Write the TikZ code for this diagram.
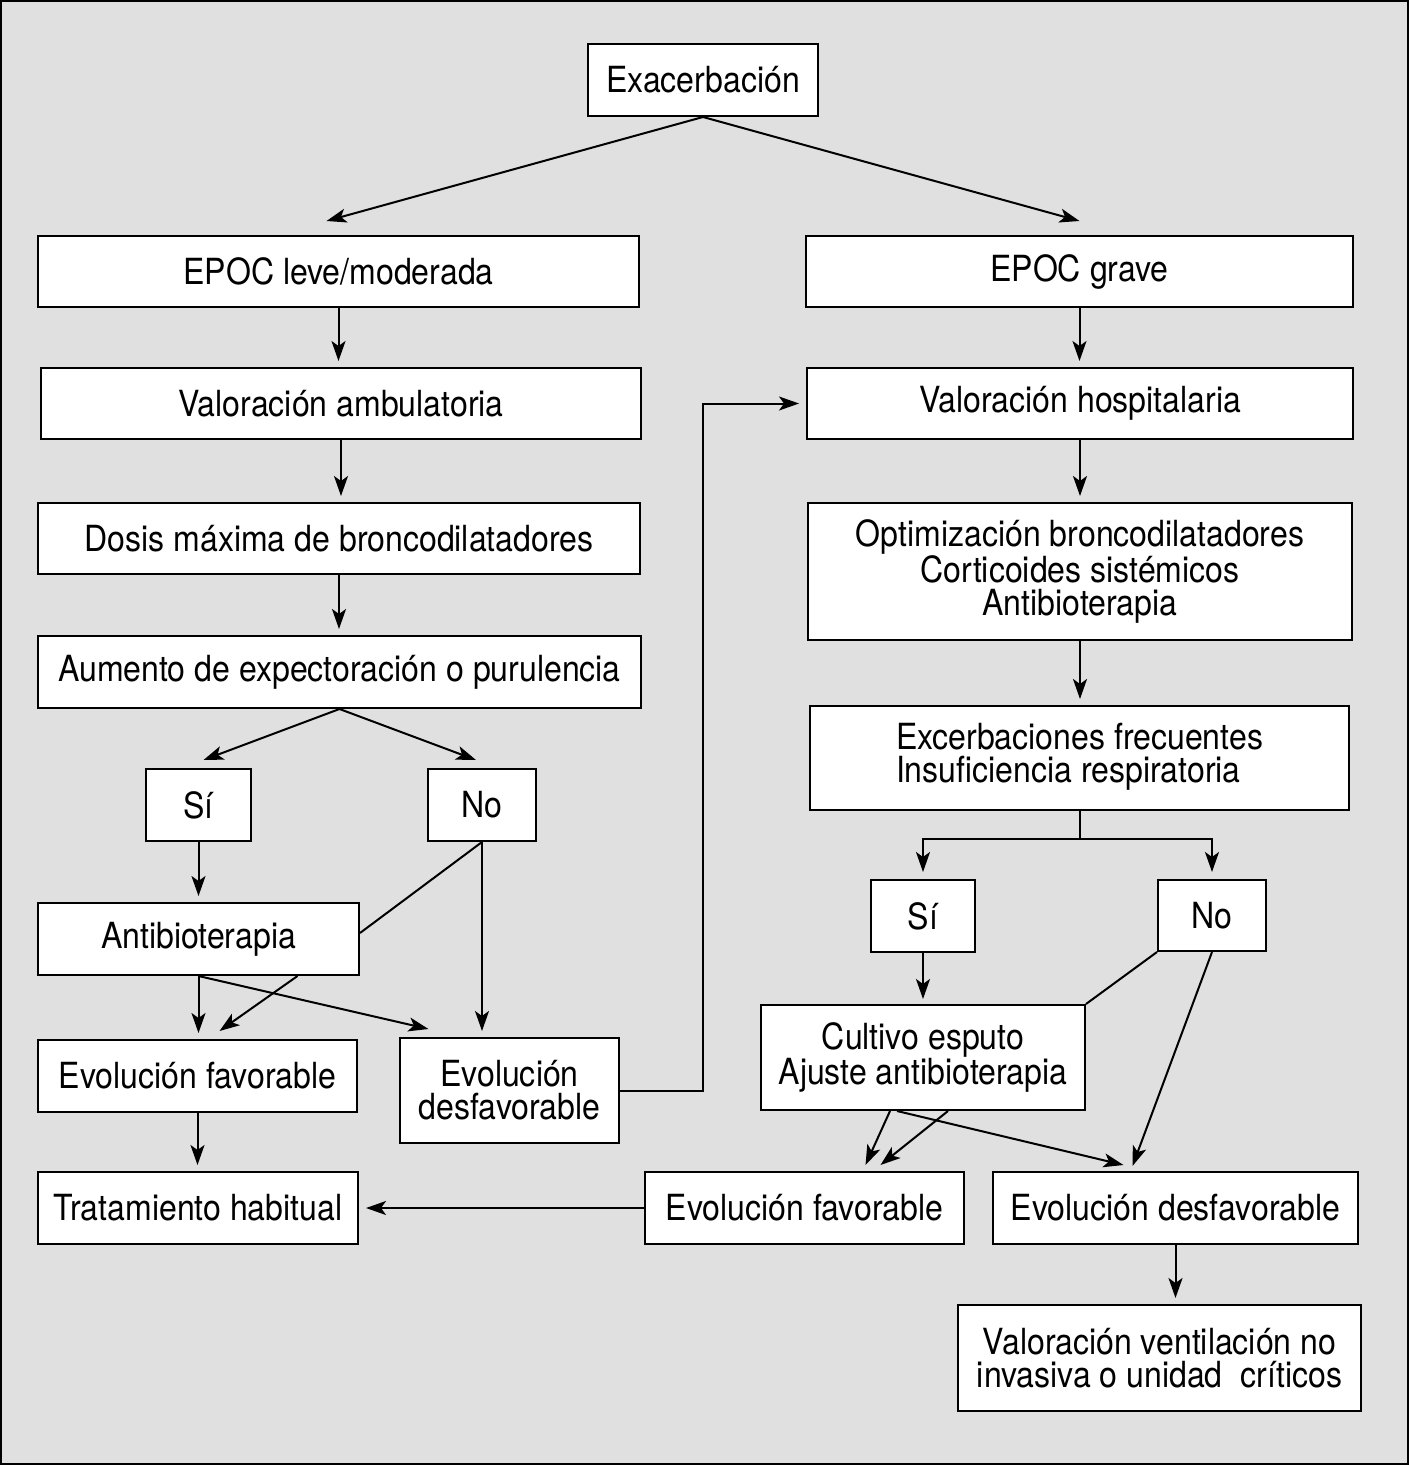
\documentclass[tikz,border=0pt]{standalone}
\usepackage{fontspec}
\setmainfont{TeX Gyre Heros}[FakeStretch=0.89]
\usetikzlibrary{arrows.meta,calc}
\definecolor{bggray}{RGB}{224,224,224}
\begin{document}
\begin{tikzpicture}[x=1pt,y=-1pt,
  box/.style={draw=black,line width=2pt,fill=white,rectangle,inner sep=0pt,align=center,
    font=\fontsize{36}{33}\selectfont},
  conn/.style={line width=2pt,draw=black},
  arr/.style={conn,-{Stealth[length=20pt,width=14pt,inset=5pt]}},
  gap/.style={shorten >=6pt}]
\useasboundingbox (0,0) rectangle (1409,1465);
\draw[line width=2pt,fill=bggray] (1,1) rectangle (1408,1464);

\node[box,minimum width=230pt,minimum height=72pt] (exa) at (703,80) {Exacerbación};
\node[box,minimum width=601pt,minimum height=71pt] (leve) at (338.5,271.5) {EPOC leve/moderada};
\node[box,minimum width=547pt,minimum height=71pt] (grave) at (1079.5,271.5) {EPOC grave};
\node[box,minimum width=600pt,minimum height=71pt] (vamb) at (341,403.5) {Valoración ambulatoria};
\node[box,minimum width=546pt,minimum height=71pt] (vhosp) at (1080,403.5) {Valoración hospitalaria};
\node[box,minimum width=602pt,minimum height=71pt] (dosis) at (339,538.5) {Dosis máxima de broncodilatadores};
\node[box,minimum width=544pt,minimum height=137pt] (optim) at (1080,571.5) {Optimización broncodilatadores\\Corticoides sistémicos\\Antibioterapia};
\node[box,minimum width=603pt,minimum height=72pt] (aum) at (339.5,672) {Aumento de expectoración o purulencia};
\node[box,minimum width=539pt,minimum height=104pt] (exc) at (1079.5,758) {\begin{tabular}{@{}l@{}}Excerbaciones frecuentes\\[-3pt]Insuficiencia respiratoria\end{tabular}};
\node[box,minimum width=105pt,minimum height=72pt] (siL) at (198.5,805) {Sí};
\node[box,minimum width=108pt,minimum height=72pt] (noL) at (482,805) {No};
\node[box,minimum width=321pt,minimum height=72pt] (antib) at (198.5,939) {Antibioterapia};
\node[box,minimum width=319pt,minimum height=72pt] (evfL) at (197.5,1076) {Evolución favorable};
\node[box,minimum width=219pt,minimum height=105pt] (evdL) at (509.5,1090.5) {Evolución\\desfavorable};
\node[box,minimum width=320pt,minimum height=72pt] (trat) at (198,1208) {Tratamiento habitual};
\node[box,minimum width=104pt,minimum height=72pt] (siR) at (923,916) {Sí};
\node[box,minimum width=108pt,minimum height=71pt] (noR) at (1212,915.5) {No};
\node[box,minimum width=324pt,minimum height=105pt] (cult) at (923,1057.5) {Cultivo esputo\\Ajuste antibioterapia};
\node[box,minimum width=319pt,minimum height=72pt] (evfR) at (804.5,1208) {Evolución favorable};
\node[box,minimum width=365pt,minimum height=72pt] (evdR) at (1175.5,1208) {Evolución desfavorable};
\node[box,minimum width=403pt,minimum height=106pt] (vent) at (1159.5,1358) {Valoración ventilación no\\invasiva o unidad\ \ críticos};

% top split
\draw[arr] (exa.south) -- ($(leve.north)+(-12,-14)$);
\draw[arr] (exa.south) -- ($(grave.north)+(0,-14)$);
% left column
\draw[arr,gap] (leve.south) -- (leve.south |- vamb.north);
\draw[arr,gap] (vamb.south) -- (vamb.south |- dosis.north);
\draw[arr,gap] (dosis.south) -- (dosis.south |- aum.north);
\draw[arr] (aum.south) -- ($(siL.north)+(5,-8)$);
\draw[arr] (aum.south) -- ($(noL.north)+(-6,-8)$);
\draw[arr,gap] (siL.south) -- (siL.south |- antib.north);
\draw[conn] (noL.south) -- ($(antib.east)+(0,-6)$);
\draw[arr,gap] (noL.south) -- (noL.south |- evdL.north);
\draw[arr,gap] (antib.south) -- (antib.south |- evfL.north);
\draw[arr] ($(antib.south)+(99,0)$) -- ($(evfL.north)+(22,-8)$);
\draw[arr] (antib.south) -- ($(evdL.north)+(-81,-8)$);
\draw[arr,gap] (evfL.south) -- (evfL.south |- trat.north);
\coordinate (turn) at ($(evdL.east)+(83,0)$);
\draw[arr,shorten >=7pt] (evdL.east) -- (turn) |- (vhosp.west);
% right column
\draw[arr,gap] (grave.south) -- (grave.south |- vhosp.north);
\draw[arr,gap] (vhosp.south) -- (vhosp.south |- optim.north);
\draw[arr,gap] (optim.south) -- (optim.south |- exc.north);
\coordinate (split) at ($(exc.south)+(0,28)$);
\draw[conn] (exc.south) -- (split);
\draw[arr,shorten >=7pt] (split) -| (siR.north);
\draw[arr,shorten >=7pt] (split) -| (noR.north);
\draw[arr,shorten >=5pt] (siR.south) -- (siR.south |- cult.north);
\draw[conn] (noR.south west) -- (cult.north east);
\draw[arr] (noR.south) -- ($(evdR.north)+(-43,-5)$);
\draw[arr] ($(cult.south)+(-33,0)$) -- ($(evfR.north)+(61,-6)$);
\draw[arr] ($(cult.south)+(25,0)$) -- ($(evfR.north)+(76,-6)$);
\draw[arr] ($(cult.south)+(-26,0)$) -- ($(evdR.north)+(-52,-6)$);
\draw[arr,shorten >=7pt] (evfR.west) -- (evfR.west -| trat.east);
\draw[arr,gap] (evdR.south) -- (evdR.south |- vent.north);
\end{tikzpicture}
\end{document}
